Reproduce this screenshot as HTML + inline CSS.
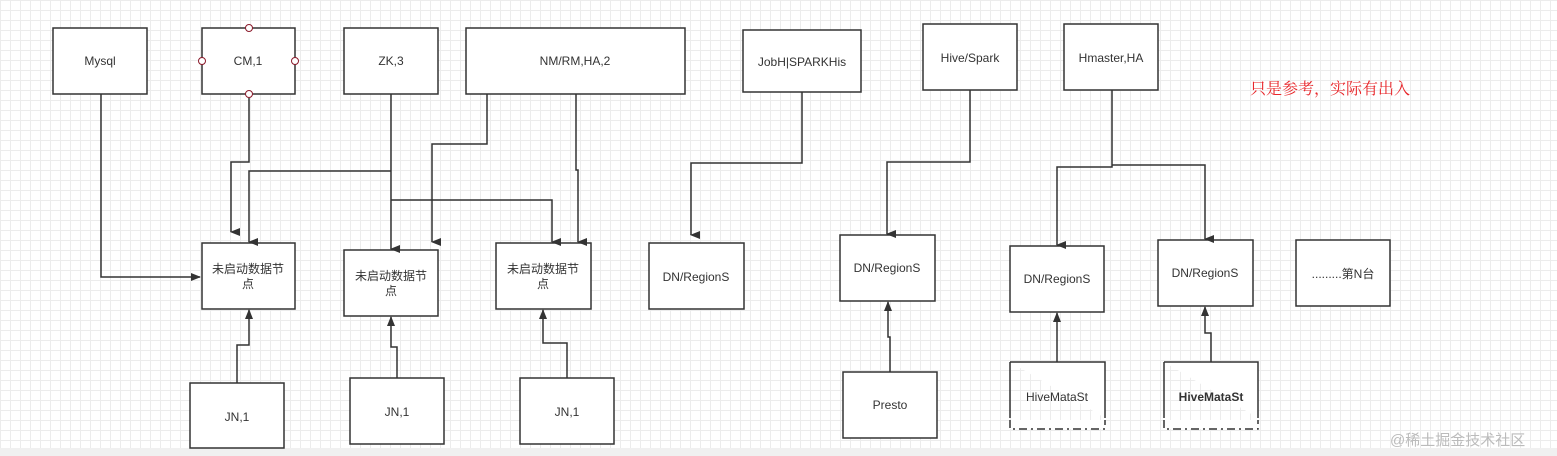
<!DOCTYPE html>
<html><head><meta charset="utf-8"><style>
html,body{margin:0;padding:0;width:1557px;height:456px;overflow:hidden;background:#fff}
.bg{position:absolute;left:0;top:0;width:1557px;height:448px;
background-image:linear-gradient(#ececec 1px,transparent 1px),linear-gradient(90deg,#ececec 1px,transparent 1px);
background-size:10px 10px}
.bot{position:absolute;left:0;top:448px;width:1557px;height:8px;background:#f0f0f0}
svg{position:absolute;left:0;top:0}
text{font-family:"Liberation Sans","Noto Sans CJK SC",sans-serif;font-size:12px;fill:#333}
</style></head><body>
<div class="bg"></div><div class="bot"></div>
<svg width="1557" height="456" viewBox="0 0 1557 456">
<defs><marker id="a" markerWidth="8" markerHeight="10" refX="4" refY="9" orient="auto-start-reverse" markerUnits="userSpaceOnUse" viewBox="0 0 8 10"><path d="M0,0 L8,0 L4,10 z" fill="#333"/></marker>
<marker id="b" markerWidth="10" markerHeight="8" refX="9" refY="4" orient="0" markerUnits="userSpaceOnUse"><path d="M0,0 L10,4 L0,8 z" fill="#333"/></marker>
<marker id="u" markerWidth="8" markerHeight="10" refX="4" refY="1" markerUnits="userSpaceOnUse"><path d="M0,10 L8,10 L4,0 z" fill="#333"/></marker>
</defs>
<g fill="#fff" stroke="#333" stroke-width="1.5">
<rect x="53" y="28" width="94" height="66"/>
<rect x="202" y="28" width="93" height="66"/>
<rect x="344" y="28" width="94" height="66"/>
<rect x="466" y="28" width="219" height="66"/>
<rect x="743" y="30" width="118" height="62"/>
<rect x="923" y="24" width="94" height="66"/>
<rect x="1064" y="24" width="94" height="66"/>
<rect x="202" y="243" width="93" height="66"/>
<rect x="344" y="250" width="94" height="66"/>
<rect x="496" y="243" width="95" height="66"/>
<rect x="649" y="243" width="95" height="66"/>
<rect x="840" y="235" width="95" height="66"/>
<rect x="1010" y="246" width="94" height="66"/>
<rect x="1158" y="240" width="95" height="66"/>
<rect x="1296" y="240" width="94" height="66"/>
<rect x="190" y="383" width="94" height="65"/>
<rect x="350" y="378" width="94" height="66"/>
<rect x="520" y="378" width="94" height="66"/>
<rect x="843" y="372" width="94" height="66"/>
</g>
<g fill="#fff" stroke="#333" stroke-width="1.5">
<path d="M1010,362 H1105 V418 M1010,362 V418"/>
<path d="M1010,420 V429 H1105 V420" stroke-dasharray="8,4,2,4"/>
<path d="M1164,362 H1258 V418 M1164,362 V418"/>
<path d="M1164,420 V429 H1258 V420" stroke-dasharray="8,4,2,4"/>
</g>
<g fill="#fff" stroke="#8b1a2b" stroke-width="1">
<circle cx="249" cy="28" r="3.5"/><circle cx="249" cy="94" r="3.5"/>
<circle cx="202" cy="61" r="3.5"/><circle cx="295" cy="61" r="3.5"/>
</g>
<g fill="none" stroke="#333" stroke-width="1.5">
<path d="M101,94 V277 H200" marker-end="url(#b)"/>
<path d="M249,98 V162 H231 V232" marker-end="url(#a)"/>
<path d="M391,94 V249" marker-end="url(#a)"/>
<path d="M391,171 H249 V242" marker-end="url(#a)"/>
<path d="M391,200 H552 V242" marker-end="url(#a)"/>
<path d="M487,94 V144 H432 V242" marker-end="url(#a)"/>
<path d="M576,94 V170 H578 V242" marker-end="url(#a)"/>
<path d="M802,92 V163 H691 V235" marker-end="url(#a)"/>
<path d="M970,90 V162 H887 V234" marker-end="url(#a)"/>
<path d="M1112,90 V167 H1057 V245" marker-end="url(#a)"/>
<path d="M1112,165 H1205 V239" marker-end="url(#a)"/>
<path d="M237,383 V345 H249 V310" marker-end="url(#u)"/>
<path d="M397,378 V347 H391 V317" marker-end="url(#u)"/>
<path d="M567,378 V343 H543 V310" marker-end="url(#u)"/>
<path d="M890,372 V337 H888 V302" marker-end="url(#u)"/>
<path d="M1057,362 V313" marker-end="url(#u)"/>
<path d="M1211,362 V333 H1205 V307" marker-end="url(#u)"/>
</g>
<g text-anchor="middle">
<text x="100" y="65">Mysql</text>
<text x="248" y="65">CM,1</text>
<text x="391" y="65">ZK,3</text>
<text x="575" y="65">NM/RM,HA,2</text>
<text x="802" y="66">JobH|SPARKHis</text>
<text x="970" y="62">Hive/Spark</text>
<text x="1111" y="62">Hmaster,HA</text>
<text x="248" y="273">未启动数据节</text><text x="248" y="288">点</text>
<text x="391" y="280">未启动数据节</text><text x="391" y="295">点</text>
<text x="543" y="273">未启动数据节</text><text x="543" y="288">点</text>
<text x="696" y="281">DN/RegionS</text>
<text x="887" y="272">DN/RegionS</text>
<text x="1057" y="283">DN/RegionS</text>
<text x="1205" y="277">DN/RegionS</text>
<text x="1343" y="278">.........第N台</text>
<text x="237" y="421">JN,1</text>
<text x="397" y="416">JN,1</text>
<text x="567" y="416">JN,1</text>
<text x="890" y="409">Presto</text>
<text x="1057" y="401">HiveMataSt</text>
<text x="1211" y="401" font-weight="bold">HiveMataSt</text>
</g>
<text x="1250" y="94" style="font-family:'Noto Serif CJK SC',serif;font-size:16px;fill:#e8262a">只是参考，实际有出入</text>
<text x="1390" y="445" style="font-size:15px;fill:#bbb">@稀土掘金技术社区</text>
</svg>
</body></html>
